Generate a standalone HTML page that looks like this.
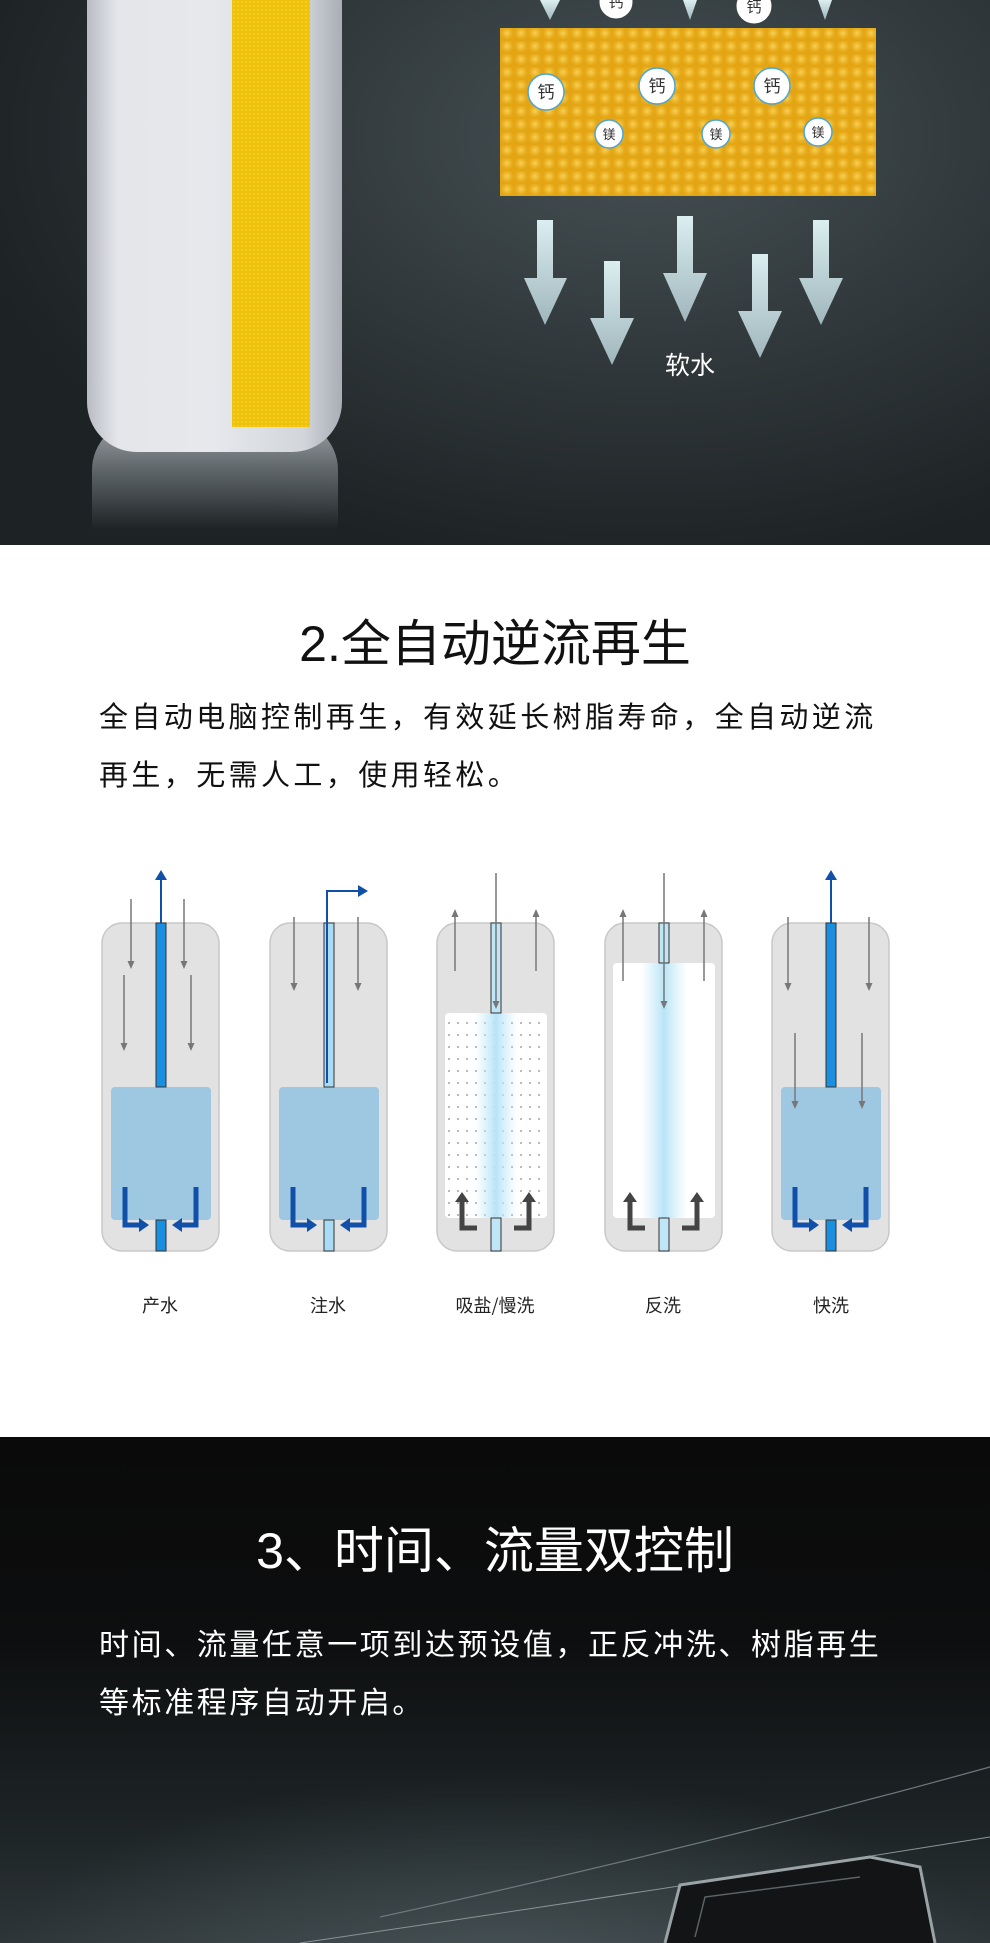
<!DOCTYPE html>
<html><head><meta charset="utf-8">
<style>
*{margin:0;padding:0;box-sizing:border-box}
body{width:990px;height:1943px;overflow:hidden;background:#fff;font-family:"Liberation Sans","Noto Sans CJK SC",sans-serif;position:relative}
.abs{position:absolute}
.t{white-space:nowrap}
</style></head><body>

<!-- Top dark section -->
<div class="abs" style="left:0;top:0;width:990px;height:545px;background:radial-gradient(ellipse 70% 80% at 65% 25%,#465154 0%,#333b3e 45%,#1d2224 100%);overflow:hidden">
  <div class="abs" style="left:92px;top:420px;width:246px;height:110px;border-radius:50px 50px 0 0;background:linear-gradient(180deg,#a0a4a9 0%,#5f666a 45%,rgba(40,46,49,0) 100%)"></div>
  <div class="abs" style="left:87px;top:-20px;width:255px;height:472px;border-radius:0 0 50px 50px;background:linear-gradient(90deg,#b9bcc3 0%,#e4e6ea 12%,#e6e8ec 50%,#d2d5da 85%,#a9adb5 100%)"></div>
  <div class="abs" style="left:232px;top:0;width:78px;height:427px;background:#efc210;background-image:radial-gradient(#f6d21c 1px,transparent 1px);background-size:4px 4px"></div>
  <div class="abs" style="left:500px;top:28px;width:376px;height:168px;background:#e3a514;background-image:radial-gradient(circle at 50% 40%,#f8cf53 0,#e8ad1e 5px,rgba(0,0,0,0) 7px);background-size:14px 13px"></div>
  <svg class="abs" style="left:0;top:0" width="990" height="545">
    <defs>
      <linearGradient id="ag" x1="0" y1="0" x2="0" y2="1"><stop offset="0" stop-color="#dbeef0"/><stop offset="1" stop-color="#9fb6bc"/></linearGradient>
    </defs>
    <g fill="url(#ag)">
      <polygon points="540,0 560,0 550,20" />
      <polygon points="683,0 697,0 690,20" />
      <polygon points="818,0 832,0 825,20" />
    </g>
    <g fill="#fff" stroke="#fff">
      <circle cx="616" cy="2" r="16"/><circle cx="754" cy="6" r="17"/>
    </g>
    <g font-family="Noto Sans CJK SC,sans-serif" font-size="15" text-anchor="middle" fill="#333">
      <text x="616" y="7">钙</text><text x="754" y="12">钙</text>
    </g>
    <g stroke="#4aa6d4" stroke-width="1.5" fill="#fff">
      <circle cx="546" cy="92" r="18"/><circle cx="657" cy="86" r="18"/><circle cx="772" cy="86" r="18"/>
      <circle cx="609" cy="134" r="14"/><circle cx="716" cy="134" r="14"/><circle cx="818" cy="132" r="14"/>
    </g>
    <g font-family="Noto Sans CJK SC,sans-serif" text-anchor="middle" fill="#333">
      <text x="546" y="98" font-size="17">钙</text><text x="657" y="92" font-size="17">钙</text><text x="772" y="92" font-size="17">钙</text>
      <text x="609" y="139" font-size="13">镁</text><text x="716" y="139" font-size="13">镁</text><text x="818" y="137" font-size="13">镁</text>
    </g>
    <g fill="url(#ag)">
      <polygon points="537,220 553,220 553,278 567,278 545,325 524,278 537,278"/>
      <polygon points="604,261 620,261 620,318 634,318 612,365 590,318 604,318"/>
      <polygon points="677,216 693,216 693,273 707,273 685,322 663,273 677,273"/>
      <polygon points="752,254 768,254 768,311 782,311 760,358 738,311 752,311"/>
      <polygon points="813,220 829,220 829,278 843,278 821,325 799,278 813,278"/>
    </g>
    <text x="690" y="374" font-family="Noto Sans CJK SC,sans-serif" font-size="25" fill="#fff" text-anchor="middle">软水</text>
  </svg>
</div>

<!-- Section 2 -->
<div class="abs t" style="left:0;top:612px;width:990px;text-align:center;font-size:50px;color:#111;line-height:64px">2.全自动逆流再生</div>
<div class="abs t" style="left:99px;top:698px;font-size:29px;letter-spacing:3.4px;color:#111;line-height:40px">全自动电脑控制再生，有效延长树脂寿命，全自动逆流</div>
<div class="abs t" style="left:99px;top:756px;font-size:29px;letter-spacing:3.4px;color:#111;line-height:40px">再生，无需人工，使用轻松。</div>

<svg class="abs" style="left:0;top:860px" width="990" height="480">
  <defs>
    <pattern id="dots" width="9" height="12" patternUnits="userSpaceOnUse"><circle cx="3" cy="4" r="0.9" fill="#888"/></pattern>
    <linearGradient id="glow" x1="0" x2="1"><stop offset="0" stop-color="#c8ecf9" stop-opacity="0"/><stop offset="0.5" stop-color="#b8e4f7"/><stop offset="1" stop-color="#c8ecf9" stop-opacity="0"/></linearGradient>
    <marker id="ga" markerUnits="userSpaceOnUse" markerWidth="8" markerHeight="10" refX="2" refY="5" orient="auto"><path d="M0,1.5 L8,5 L0,8.5 Z" fill="#777"/></marker>
    <marker id="ba" markerUnits="userSpaceOnUse" markerWidth="10" markerHeight="12" refX="2" refY="6" orient="auto"><path d="M0,0 L10,6 L0,12 Z" fill="#1150a8"/></marker>
    <marker id="bb" markerUnits="userSpaceOnUse" markerWidth="10" markerHeight="14" refX="1" refY="7" orient="auto"><path d="M0,0 L10,7 L0,14 Z" fill="#1150a8"/></marker>
    <marker id="kb" markerUnits="userSpaceOnUse" markerWidth="10" markerHeight="14" refX="1" refY="7" orient="auto"><path d="M0,0 L10,7 L0,14 Z" fill="#444"/></marker>
  </defs>
  <g font-family="Noto Sans CJK SC,sans-serif">
    <g transform="translate(102,63)">
      <rect x="0" y="0" width="117" height="328" rx="20" fill="#e2e2e2" stroke="#c8c8c8" stroke-width="1.5"/>
      <rect x="9" y="164" width="100" height="133" rx="4" fill="#9ec8e2"/>
      <rect x="54" y="0" width="10" height="164" fill="#1a8fe0" stroke="#333" stroke-width="1"/>
      <rect x="54" y="297" width="10" height="31" fill="#1a8fe0" stroke="#333" stroke-width="1"/>
      <line x1="59" y1="0" x2="59" y2="-45" stroke="#1150a8" stroke-width="2" marker-end="url(#ba)"/>
      <line x1="29" y1="-24" x2="29" y2="40" stroke="#777" stroke-width="1.5" marker-end="url(#ga)"/>
      <line x1="82" y1="-24" x2="82" y2="40" stroke="#777" stroke-width="1.5" marker-end="url(#ga)"/>
      <line x1="22" y1="52" x2="22" y2="122" stroke="#777" stroke-width="1.5" marker-end="url(#ga)"/>
      <line x1="89" y1="52" x2="89" y2="122" stroke="#777" stroke-width="1.5" marker-end="url(#ga)"/>
      <path d="M23,264 V302 H38" fill="none" stroke="#1150a8" stroke-width="5" marker-end="url(#bb)"/>
      <path d="M94,264 V302 H79" fill="none" stroke="#1150a8" stroke-width="5" marker-end="url(#bb)"/>
    </g>
    <g transform="translate(270,63)">
      <rect x="0" y="0" width="117" height="328" rx="20" fill="#e2e2e2" stroke="#c8c8c8" stroke-width="1.5"/>
      <rect x="9" y="164" width="100" height="133" rx="4" fill="#9ec8e2"/>
      <rect x="54" y="0" width="10" height="164" fill="#a8dcf4" stroke="#333" stroke-width="1"/>
      <rect x="54" y="297" width="10" height="31" fill="#a8dcf4" stroke="#333" stroke-width="1"/>
      <path d="M57,160 V-32 H90" fill="none" stroke="#1150a8" stroke-width="2" marker-end="url(#ba)"/>
      <line x1="24" y1="-6" x2="24" y2="62" stroke="#777" stroke-width="1.5" marker-end="url(#ga)"/>
      <line x1="88" y1="-6" x2="88" y2="62" stroke="#777" stroke-width="1.5" marker-end="url(#ga)"/>
      <path d="M23,264 V302 H38" fill="none" stroke="#1150a8" stroke-width="5" marker-end="url(#bb)"/>
      <path d="M94,264 V302 H79" fill="none" stroke="#1150a8" stroke-width="5" marker-end="url(#bb)"/>
    </g>
    <g transform="translate(437,63)">
      <rect x="0" y="0" width="117" height="328" rx="20" fill="#e2e2e2" stroke="#c8c8c8" stroke-width="1.5"/>
      <rect x="8" y="90" width="102" height="205" rx="4" fill="#fff"/>
      <rect x="8" y="90" width="102" height="205" fill="url(#dots)"/>
      <rect x="38" y="90" width="42" height="205" fill="url(#glow)"/>
      <rect x="54" y="0" width="10" height="90" fill="#bfe6f7" stroke="#333" stroke-width="1"/>
      <rect x="54" y="295" width="10" height="33" fill="#bfe6f7" stroke="#333" stroke-width="1"/>
      <line x1="59" y1="-50" x2="59" y2="80" stroke="#777" stroke-width="1.5" marker-end="url(#ga)"/>
      <line x1="18" y1="48" x2="18" y2="-8" stroke="#777" stroke-width="1.5" marker-end="url(#ga)"/>
      <line x1="99" y1="48" x2="99" y2="-8" stroke="#777" stroke-width="1.5" marker-end="url(#ga)"/>
      <path d="M40,305 H25 V278" fill="none" stroke="#444" stroke-width="5" marker-end="url(#kb)"/>
      <path d="M77,305 H92 V278" fill="none" stroke="#444" stroke-width="5" marker-end="url(#kb)"/>
    </g>
    <g transform="translate(605,63)">
      <rect x="0" y="0" width="117" height="328" rx="20" fill="#e2e2e2" stroke="#c8c8c8" stroke-width="1.5"/>
      <rect x="8" y="40" width="102" height="255" rx="4" fill="#fff"/>
      <rect x="36" y="40" width="46" height="255" fill="url(#glow)"/>
      <rect x="54" y="0" width="10" height="40" fill="#bfe6f7" stroke="#333" stroke-width="1"/>
      <rect x="54" y="295" width="10" height="33" fill="#bfe6f7" stroke="#333" stroke-width="1"/>
      <line x1="59" y1="-50" x2="59" y2="80" stroke="#777" stroke-width="1.5" marker-end="url(#ga)"/>
      <line x1="18" y1="58" x2="18" y2="-8" stroke="#777" stroke-width="1.5" marker-end="url(#ga)"/>
      <line x1="99" y1="58" x2="99" y2="-8" stroke="#777" stroke-width="1.5" marker-end="url(#ga)"/>
      <path d="M40,305 H25 V278" fill="none" stroke="#444" stroke-width="5" marker-end="url(#kb)"/>
      <path d="M77,305 H92 V278" fill="none" stroke="#444" stroke-width="5" marker-end="url(#kb)"/>
    </g>
    <g transform="translate(772,63)">
      <rect x="0" y="0" width="117" height="328" rx="20" fill="#e2e2e2" stroke="#c8c8c8" stroke-width="1.5"/>
      <rect x="9" y="164" width="100" height="133" rx="4" fill="#9ec8e2"/>
      <rect x="54" y="0" width="10" height="164" fill="#1a8fe0" stroke="#333" stroke-width="1"/>
      <rect x="54" y="297" width="10" height="31" fill="#1a8fe0" stroke="#333" stroke-width="1"/>
      <line x1="59" y1="0" x2="59" y2="-45" stroke="#1150a8" stroke-width="2" marker-end="url(#ba)"/>
      <line x1="16" y1="-6" x2="16" y2="62" stroke="#777" stroke-width="1.5" marker-end="url(#ga)"/>
      <line x1="97" y1="-6" x2="97" y2="62" stroke="#777" stroke-width="1.5" marker-end="url(#ga)"/>
      <line x1="23" y1="110" x2="23" y2="180" stroke="#777" stroke-width="1.5" marker-end="url(#ga)"/>
      <line x1="90" y1="110" x2="90" y2="180" stroke="#777" stroke-width="1.5" marker-end="url(#ga)"/>
      <path d="M23,264 V302 H38" fill="none" stroke="#1150a8" stroke-width="5" marker-end="url(#bb)"/>
      <path d="M94,264 V302 H79" fill="none" stroke="#1150a8" stroke-width="5" marker-end="url(#bb)"/>
    </g>
    <g font-size="18" fill="#222" text-anchor="middle">
      <text x="160" y="452">产水</text>
      <text x="328" y="452">注水</text>
      <text x="495" y="452">吸盐/慢洗</text>
      <text x="663" y="452">反洗</text>
      <text x="831" y="452">快洗</text>
    </g>
  </g>
</svg>

<!-- Section 3 dark -->
<div class="abs" style="left:0;top:1437px;width:990px;height:506px;background:linear-gradient(180deg,#0a0a0a 0%,#0d0e0f 40%,#1f2628 80%,#2e3538 100%);overflow:hidden">
  <div class="abs" style="left:-100px;top:300px;width:1200px;height:300px;background:radial-gradient(ellipse at 50% 80%,rgba(120,140,145,0.35),rgba(0,0,0,0) 60%)"></div>
  <svg class="abs" style="left:0;top:0" width="990" height="506">
    <path d="M380,480 Q700,410 990,330" fill="none" stroke="#6c7a7e" stroke-width="1.2"/>
    <path d="M300,506 Q680,450 990,400" fill="none" stroke="#8a9599" stroke-width="1"/>
    <path d="M665,506 L680,448 L870,420 L920,430 L935,506" fill="#121416" stroke="#9aa3a6" stroke-width="3"/>
    <path d="M695,500 L705,460 L860,440" fill="none" stroke="#5a6366" stroke-width="1.5"/>
  </svg>
</div>
<div class="abs t" style="left:0;top:1519px;width:990px;text-align:center;font-size:50px;color:#fff;line-height:64px">3、时间、流量双控制</div>
<div class="abs t" style="left:99px;top:1626px;font-size:30px;letter-spacing:2.6px;color:#fff;line-height:40px">时间、流量任意一项到达预设值，正反冲洗、树脂再生</div>
<div class="abs t" style="left:99px;top:1684px;font-size:30px;letter-spacing:2.6px;color:#fff;line-height:40px">等标准程序自动开启。</div>

</body></html>
